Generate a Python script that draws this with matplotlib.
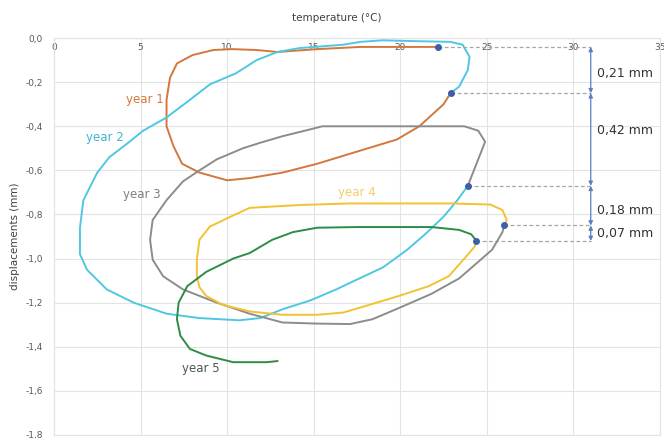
import matplotlib
matplotlib.use("Agg")
import matplotlib.pyplot as plt
from matplotlib.ticker import FuncFormatter

# temperature (°C) / displacement (mm) traces, one loop per year
year1_t = [22.9, 22.5, 21.1, 19.8, 17.7, 15.2, 13.2, 11.3, 10.0, 8.4, 7.4, 6.9, 6.5,
           6.5, 6.7, 7.1, 8.0, 9.2, 10.3, 11.7, 12.9, 15.2, 17.7, 20.0, 22.2]
year1_d = [-0.25, -0.30, -0.40, -0.46, -0.51, -0.57, -0.61, -0.635, -0.645, -0.61, -0.57, -0.49, -0.40,
           -0.28, -0.18, -0.115, -0.077, -0.054, -0.05, -0.054, -0.063, -0.05, -0.04, -0.04, -0.04]

year2_t = [22.9, 23.4, 23.9, 24.0, 23.6, 22.9, 21.0, 19.0, 17.7, 16.7, 14.2, 12.9, 11.7,
           10.5, 9.0, 7.85, 6.5, 5.15, 4.2, 3.2, 2.5, 1.7, 1.5, 1.5, 1.9, 3.05, 4.6,
           6.5, 8.4, 10.7, 11.9, 13.2, 14.8, 16.3, 17.1, 19.0, 20.4, 21.5, 22.5, 23.3, 23.9]
year2_d = [-0.25, -0.22, -0.145, -0.085, -0.03, -0.017, -0.014, -0.01, -0.017, -0.03, -0.045, -0.063, -0.10,
           -0.16, -0.21, -0.28, -0.36, -0.42, -0.48, -0.54, -0.61, -0.735, -0.86, -0.98, -1.05, -1.14, -1.20,
           -1.25, -1.27, -1.28, -1.27, -1.23, -1.19, -1.14, -1.11, -1.04, -0.96, -0.885, -0.81, -0.735, -0.67]

year3_t = [23.9, 24.4, 24.9, 24.5, 23.7, 21.8, 18.0, 15.5, 15.0, 13.2, 11.9, 10.9, 9.4,
           8.4, 7.45, 6.5, 5.7, 5.55, 5.7, 6.3, 7.45, 9.4, 11.3, 13.2, 15.2, 17.1,
           18.4, 19.9, 21.8, 23.4, 24.5, 25.3, 25.9, 26.0]
year3_d = [-0.67, -0.57, -0.47, -0.42, -0.40, -0.40, -0.40, -0.40, -0.41, -0.445, -0.475, -0.50, -0.55,
           -0.60, -0.65, -0.735, -0.825, -0.915, -1.005, -1.08, -1.14, -1.20, -1.25, -1.29, -1.295, -1.297,
           -1.275, -1.225, -1.16, -1.09, -1.015, -0.96, -0.88, -0.85]

year4_t = [26.0, 26.15, 25.9, 25.2, 22.9, 20.0, 17.1, 14.2, 11.3, 10.2, 9.0, 8.4, 8.25,
           8.25, 8.4, 8.8, 9.75, 11.3, 13.2, 15.2, 16.7, 18.0, 19.9, 21.65, 22.8, 23.7, 24.3, 24.4]
year4_d = [-0.85, -0.825, -0.78, -0.755, -0.75, -0.75, -0.75, -0.757, -0.77, -0.81, -0.855, -0.915, -1.005,
           -1.08, -1.13, -1.17, -1.21, -1.24, -1.255, -1.255, -1.245, -1.215, -1.17, -1.125, -1.08, -1.0, -0.945, -0.92]

year5_t = [24.4, 24.1, 23.4, 21.8, 19.9, 17.6, 15.2, 13.8, 12.6, 11.3, 10.35, 8.8, 7.7,
           7.2, 7.1, 7.3, 7.85, 8.8, 10.35, 12.3, 12.9]
year5_d = [-0.92, -0.89, -0.87, -0.857, -0.857, -0.857, -0.86, -0.88, -0.915, -0.975, -1.0, -1.06, -1.125,
           -1.20, -1.275, -1.35, -1.41, -1.44, -1.47, -1.47, -1.465]

# end-of-year reference points and the settlement between them
mark_t = [22.2, 22.9, 23.9, 26.0, 24.4]
mark_d = [-0.04, -0.25, -0.67, -0.85, -0.92]
deltas = [0.21, 0.42, 0.18, 0.07]
delta_label_y = [-0.16, -0.42, -0.78, -0.885]
bracket_x = 31.0

series = [
    ("year 1", year1_t, year1_d, "#D2783C", "#D2783C", (5.25, -0.28)),
    ("year 2", year2_t, year2_d, "#4FC7E3", "#3FB5D5", (2.95, -0.45)),
    ("year 3", year3_t, year3_d, "#8C8C8C", "#7F7F7F", (5.1, -0.71)),
    ("year 4", year4_t, year4_d, "#F2C230", "#F2CE6A", (17.5, -0.70)),
    ("year 5", year5_t, year5_d, "#2E8B4A", "#4A5A48", (8.5, -1.50)),
]

fig = plt.figure(figsize=(6.64, 4.38), dpi=100)
ax = fig.add_axes([0.0813, 0.007, 0.9127, 0.906])

for name, t, d, color, tcolor, (lx, ly) in series:
    ax.plot(t, d, color=color, linewidth=1.4, zorder=3)
    ax.text(lx, ly, name, color=tcolor, fontsize=8.5, ha="center", va="center")

# dashed leaders from each reference point to the bracket
for t, d in zip(mark_t, mark_d):
    ax.plot([t, bracket_x], [d, d], color="#A6A6A6", linestyle=(0, (3, 2)),
            linewidth=0.9, zorder=2)
ax.scatter(mark_t, mark_d, s=16, color="#3D5FA8", zorder=5)

for i, delta in enumerate(deltas):
    ax.annotate("", xy=(bracket_x, mark_d[i + 1]), xytext=(bracket_x, mark_d[i]),
                arrowprops=dict(arrowstyle="<|-|>", color="#5B7FC0", lw=0.9,
                                mutation_scale=6, shrinkA=0, shrinkB=0))
    label = f"{delta:.2f}".replace(".", ",") + " mm"
    ax.text(bracket_x + 0.35, delta_label_y[i], label, fontsize=9,
            color="#333333", ha="left", va="center")

ax.set_xlim(0, 35)
ax.set_ylim(-1.8, 0)
ax.set_xticks(range(0, 36, 5))
ax.set_yticks([-1.8, -1.6, -1.4, -1.2, -1.0, -0.8, -0.6, -0.4, -0.2, 0.0])
ax.yaxis.set_major_formatter(FuncFormatter(lambda v, p: f"{v:.1f}".replace(".", ",").replace("-0,0", "0,0")))

ax.xaxis.set_ticks_position("top")
ax.tick_params(axis="x", length=0, pad=-10, labelsize=6.5, labelcolor="#595959")
ax.tick_params(axis="y", length=0, pad=8, labelsize=6.5, labelcolor="#595959")

ax.grid(True, color="#E3E3E3", linewidth=0.8)
ax.set_axisbelow(True)
for side in ax.spines.values():
    side.set_color("#E3E3E3")
    side.set_linewidth(0.8)

ax.set_ylabel("displacements (mm)", fontsize=7.5, color="#404040", labelpad=4)
fig.text(337 / 664, 1 - 18 / 438, "temperature (°C)", fontsize=7.5, color="#404040",
         ha="center", va="center")

fig.savefig("out.png", dpi=100)
